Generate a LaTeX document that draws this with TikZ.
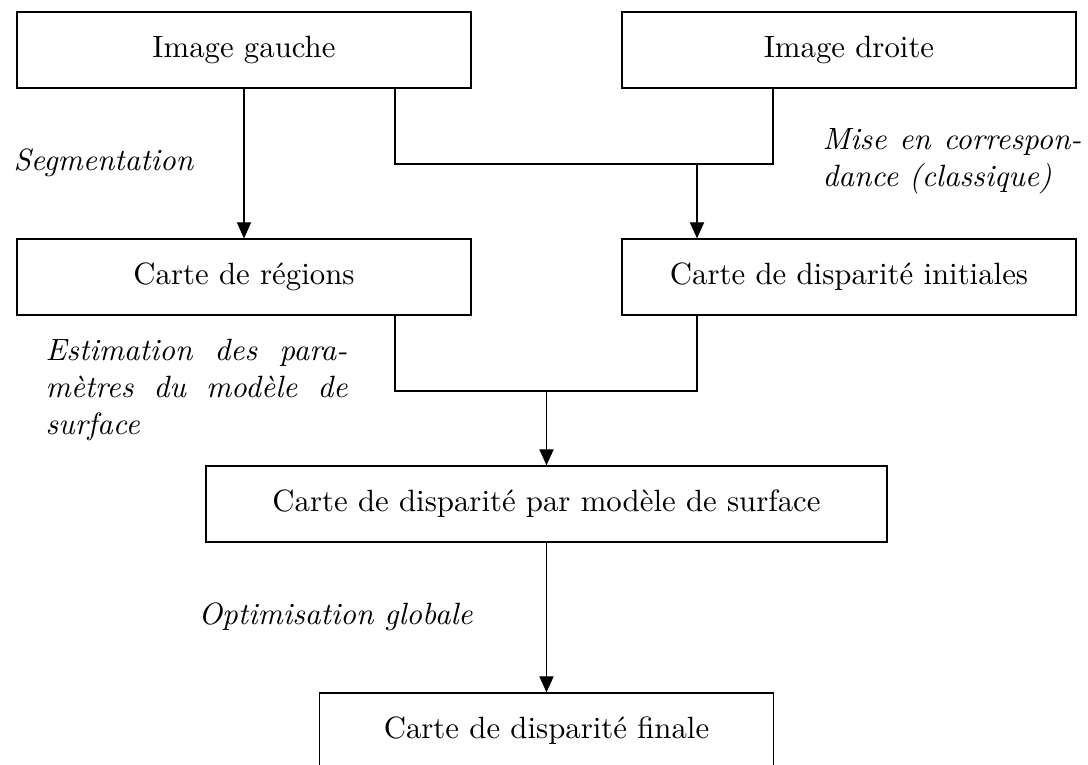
\documentclass[tikz,border=0pt]{standalone}
\usetikzlibrary{arrows.meta}
\begin{document}
\begin{tikzpicture}[x=0.3247pt,y=-0.3247pt,
  box/.style={draw,thin,inner sep=0pt,minimum width=147.4pt,minimum height=24.7pt},
  widebox/.style={box,minimum width=221.1pt},
  lab/.style={font=\itshape,inner sep=0pt},
  arr/.style={-{Triangle[length=5.2pt,width=4.6pt]}}]
\clip (0,0) rectangle (1088,764);
% boxes
\node[box] (ig) at (244,50) {Image gauche};
\node[box] (id) at (849,50) {Image droite};
\node[box] (cr) at (244,277) {Carte de régions};
\node[box] (cd) at (849,277) {Carte de disparité initiales};
\node[widebox] (cm) at (546.5,504) {Carte de disparité par modèle de surface};
\node[box] (cf) at (546.5,731) {Carte de disparité finale};
% junction points
\coordinate (t1) at (395,164);
\coordinate (t2) at (773,164);
\coordinate (t3) at (697,164);
\coordinate (b1) at (395,391);
\coordinate (b2) at (697,391);
\coordinate (b3) at (546.5,391);
% connectors
\draw[arr] (ig) -- (cr);
\draw (t1 |- ig.south) -- (t1) -- (t2) -- (t2 |- id.south);
\draw[arr] (t3) -- (t3 |- cd.north);
\draw (b1 |- cr.south) -- (b1) -- (b2) -- (b2 |- cd.south);
\draw[arr] (b3) -- (cm);
\draw[arr] (cm) -- (cf);
% labels
\node[lab,anchor=west] (lseg) at (13,163) {Segmentation};
\node[lab,anchor=west,text width=84pt,align=justify] (lmise) at (822,161)
  {Mise en correspon-\linebreak dance (classique)};
\node[lab,anchor=west,text width=98pt,align=justify] (lest) at (45,390)
  {Estimation des para-\linebreak mètres du modèle de\linebreak surface};
\node[lab,anchor=west] (lopt) at (198,617) {Optimisation globale};
\end{tikzpicture}
\end{document}
